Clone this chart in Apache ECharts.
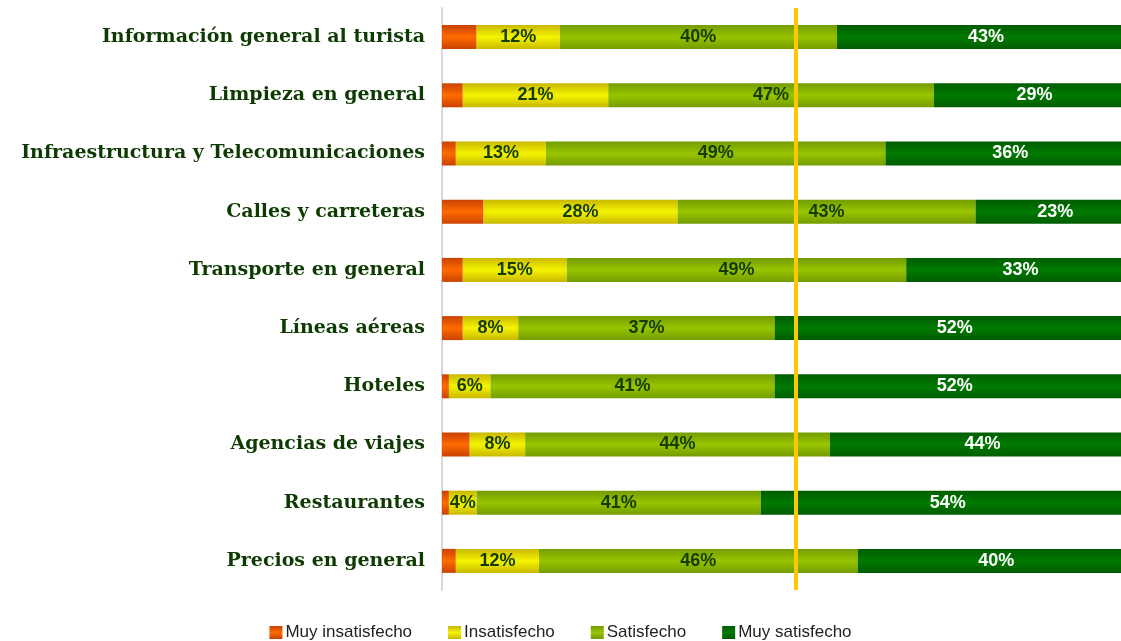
<!DOCTYPE html>
<html>
<head>
<meta charset="utf-8">
<script src="https://cdn.jsdelivr.net/npm/echarts@6/dist/echarts.min.js"></script>
<style>
  html, body { margin: 0; padding: 0; background: #fff; }
  #chart { width: 1121px; height: 641px; }
</style>
</head>
<body>
<div id="chart"></div>
<script>
const categories = [
  'Información general al turista',
  'Limpieza en general',
  'Infraestructura y Telecomunicaciones',
  'Calles y carreteras',
  'Transporte en general',
  'Líneas aéreas',
  'Hoteles',
  'Agencias de viajes',
  'Restaurantes',
  'Precios en general'
]
const muyInsatisfecho = [5, 3, 2, 6, 3, 3, 1, 4, 1, 2]
const insatisfecho = [12, 21, 13, 28, 15, 8, 6, 8, 4, 12]
const satisfecho = [40, 47, 49, 43, 49, 37, 41, 44, 41, 46]
const muySatisfecho = [43, 29, 36, 23, 33, 52, 52, 44, 54, 40]
const referenceValue = 51
// the original plot runs past the right edge of the picture: only ~98% is visible
const visibleMax = 98

const chart = echarts.init(document.getElementById('chart'))

// vertical shading: darker edges, lighter middle
const shade = (edge, mid) =>
  new echarts.graphic.LinearGradient(0, 0, 0, 1, [
    { offset: 0, color: edge },
    { offset: 0.5, color: mid },
    { offset: 1, color: edge },
  ])

const labelStyle = (color) => ({
  show: true,
  position: 'inside',
  formatter: '{c}%',
  color: color,
  fontFamily: 'Liberation Sans, Arial, sans-serif',
  fontWeight: 'bold',
  fontSize: 18,
})

const barBase = {
  type: 'bar',
  stack: 'total',
  barWidth: 24,
  clip: false,
  silent: true,
}

const option = {
  animation: false,
  backgroundColor: '#fff',
  grid: {
    left: 442,
    right: 0,
    top: 8,
    bottom: 51,
    containLabel: false,
  },
  legend: {
    top: 624,
    left: 'center',
    padding: 0,
    icon: 'rect',
    itemWidth: 13,
    itemHeight: 13,
    itemGap: 36,
    textStyle: {
      fontFamily: 'Liberation Sans, Arial, sans-serif',
      fontSize: 17,
      color: '#222',
      padding: [0, 0, 0, -2],
    },
    data: ['Muy insatisfecho', 'Insatisfecho', 'Satisfecho', 'Muy satisfecho'],
  },
  xAxis: {
    type: 'value',
    min: 0,
    max: visibleMax,
    show: false,
  },
  yAxis: {
    type: 'category',
    inverse: true,
    data: categories,
    axisTick: { show: false },
    axisLine: {
      show: true,
      lineStyle: { color: '#d9d9d9', width: 2 },
    },
    axisLabel: {
      margin: 17,
      color: '#0e3b02',
      fontFamily: 'DejaVu Serif, serif',
      fontWeight: 'bold',
      fontSize: 19,
    },
  },
  series: [
    {
      ...barBase,
      name: 'Muy insatisfecho',
      data: muyInsatisfecho,
      itemStyle: { color: shade('#c94300', '#ff6a00') },
    },
    {
      ...barBase,
      name: 'Insatisfecho',
      data: insatisfecho,
      itemStyle: { color: shade('#c9b800', '#f4f400') },
      label: labelStyle('#143b02'),
    },
    {
      ...barBase,
      name: 'Satisfecho',
      data: satisfecho,
      itemStyle: { color: shade('#739c00', '#99c400') },
      label: labelStyle('#143b02'),
    },
    {
      ...barBase,
      name: 'Muy satisfecho',
      data: muySatisfecho,
      itemStyle: { color: shade('#005c00', '#007a00') },
      label: labelStyle('#ffffff'),
      markLine: {
        silent: true,
        symbol: 'none',
        label: { show: false },
        lineStyle: { color: '#ffc800', width: 4, type: 'solid' },
        data: [{ xAxis: referenceValue }],
        z: 10,
      },
    },
  ],
}

chart.setOption(option)
</script>
</body>
</html>
